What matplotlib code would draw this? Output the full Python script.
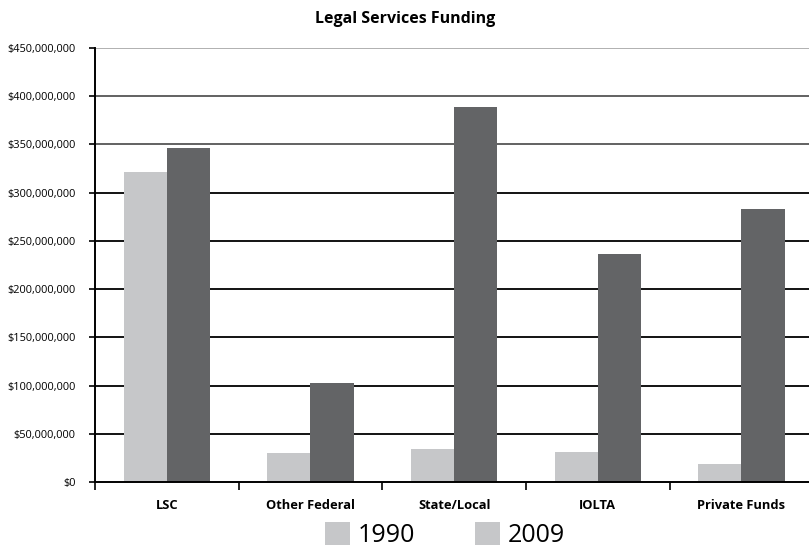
import matplotlib
matplotlib.use("Agg")
import matplotlib.pyplot as plt
import numpy as np
from matplotlib.ticker import FuncFormatter
from matplotlib.patches import Patch

categories = ["LSC", "Other Federal", "State/Local", "IOLTA", "Private Funds"]
values_1990 = [321_000_000, 30_000_000, 34_000_000, 31_500_000, 18_500_000]
values_2009 = [346_000_000, 103_000_000, 389_000_000, 236_000_000, 283_000_000]
yticks = [0, 50_000_000, 100_000_000, 150_000_000, 200_000_000, 250_000_000,
          300_000_000, 350_000_000, 400_000_000, 450_000_000]
series_names = ["1990", "2009"]

plt.rcParams['font.family'] = ['Open Sans', 'DejaVu Sans']

light = "#c6c7c9"
dark = "#636466"

fig = plt.figure(figsize=(8.09, 5.5), dpi=100)
ax = fig.add_axes([95/809, 1-482/550, 1-95/809, (482-48)/550])

x = np.arange(len(categories))
w = 0.3
ax.bar(x - w/2, values_1990, width=w, color=light, zorder=3)
ax.bar(x + w/2, values_2009, width=w, color=dark, zorder=3)

ax.set_ylim(0, 450_000_000)
ax.set_xlim(-0.5, 4.47)
ax.set_yticks(yticks)
ax.yaxis.set_major_formatter(FuncFormatter(lambda v, p: "${:,.0f}".format(v)))

grid_colors = ["#000000"] * 7 + ["#555555", "#555555", "#aaaaaa"]
for yv, c in zip(yticks[1:], grid_colors[1:]):
    ax.axhline(yv, color=c, lw=1.3, zorder=1)

ax.set_xticks(x)
ax.set_xticklabels(categories, fontsize=9.3, fontweight='bold')
ax.set_xticks(np.arange(len(categories)) - 0.5, minor=True)
ax.tick_params(axis='x', which='major', length=0, pad=12)
ax.tick_params(axis='x', which='minor', length=6, width=1.2, direction='out')
ax.tick_params(axis='y', length=4, width=1.2, labelsize=7.9, pad=10)

for s in ["top", "right"]:
    ax.spines[s].set_visible(False)
for s in ["left", "bottom"]:
    ax.spines[s].set_linewidth(1.4)
    ax.spines[s].set_color("#000000")
    ax.spines[s].set_zorder(4)

fig.text(405/809, 1-19/550, "Legal Services Funding", ha='center', va='center',
         fontsize=11.5, fontweight='bold')

handles = [Patch(facecolor=light, edgecolor='none'), Patch(facecolor=light, edgecolor='none')]
fig.legend(handles, series_names, loc='center', bbox_to_anchor=(445/809, 1-535/550),
           ncol=2, frameon=False, fontsize=18, handlelength=1.0, handleheight=1.0,
           handletextpad=0.3, columnspacing=2.4, borderaxespad=0, borderpad=0)

fig.savefig("out.png", dpi=100)
